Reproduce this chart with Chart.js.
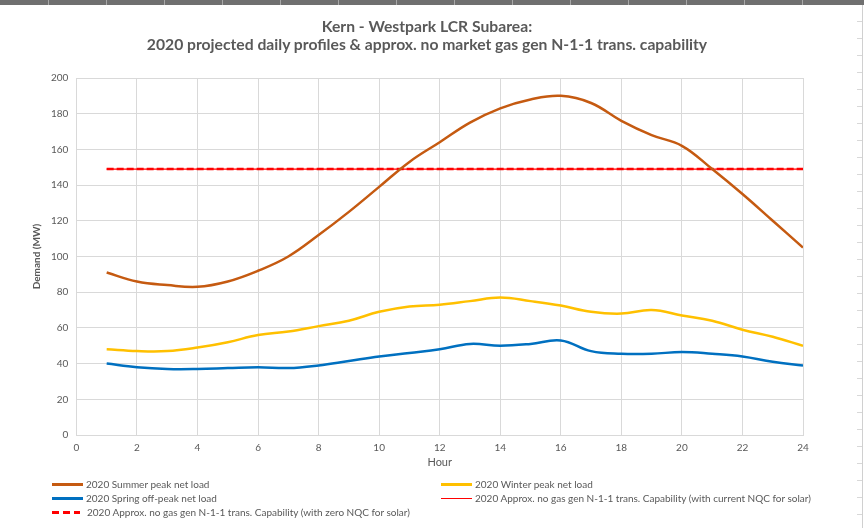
<!DOCTYPE html>
<html>
<head>
<meta charset="utf-8">
<script src="https://cdn.jsdelivr.net/npm/chart.js@4.4.1/dist/chart.umd.min.js"></script>
<style>
  html, body { margin: 0; padding: 0; background: #fff; }
  #wrap { position: relative; width: 864px; height: 528px; overflow: hidden; font-family: Lato, "Open Sans", sans-serif; }
  #topbar { position: absolute; left: 0; top: 0; width: 864px; height: 5px;
            background: repeating-linear-gradient(90deg, #707070 0px, #707070 57px, #a8a8a8 57px, #a8a8a8 58px);
            background-position: -9px 0; }
  #rightcol { position: absolute; left: 857px; top: 5px; width: 5px; height: 523px;
              border-right: 1px solid #d0d0d0;
              background: repeating-linear-gradient(180deg, transparent 0px, transparent 16px, #d8d8d8 16px, #d8d8d8 17px); }
  #chart { position: absolute; left: 0; top: 0; }
  #title { position: absolute; left: 0; top: 17px; width: 854px; text-align: center;
           font-size: 15.7px; font-weight: bold; line-height: 18px; color: #595959; }
  #legend { position: absolute; left: 0; top: 0; width: 864px; height: 528px; pointer-events: none; }
  .item { position: absolute; font-size: 10px; color: #595959; white-space: nowrap; line-height: 14px; }
  .swatch { display: inline-block; vertical-align: middle; width: 31px; height: 3px; margin-right: 3px; position: relative; top: -1px; }
</style>
</head>
<body>
<div id="wrap">
  <canvas id="chart" width="864" height="528"></canvas>
  <div id="title"></div>
  <div id="topbar"></div>
  <div id="rightcol"></div>
  <div id="legend"></div>
</div>
<script>
// hours of the day
const hours = [1, 2, 3, 4, 5, 6, 7, 8, 9, 10, 11, 12, 13, 14, 15, 16, 17, 18, 19, 20, 21, 22, 23, 24];

// demand in MW
const summerPeak = [91, 86, 84, 83, 86, 92, 100, 112, 125, 139, 153, 164, 175, 183, 188, 190, 186, 176, 168, 162, 149, 135, 120, 105];
const winterPeak = [48, 47, 47, 49, 52, 56, 58, 61, 64, 69, 72, 73, 75, 77, 75, 72.5, 69, 68, 70, 67, 64, 59, 55, 50];
const springOffPeak = [40, 38, 37, 37, 37.5, 38, 37.5, 39, 41.5, 44, 46, 48, 51, 50, 51, 53, 47, 45.5, 45.5, 46.5, 45.5, 44, 41, 39];
const capCurrentNqc = [149, 149, 149, 149, 149, 149, 149, 149, 149, 149, 149, 149, 149, 149, 149, 149, 149, 149, 149, 149, 149, 149, 149, 149];
const capZeroNqc = [149, 149, 149, 149, 149, 149, 149, 149, 149, 149, 149, 149, 149, 149, 149, 149, 149, 149, 149, 149, 149, 149, 149, 149];

const seriesNames = [
    "2020 Summer peak net load",
    "2020 Winter peak net load",
    "2020 Spring off-peak net load",
    "2020 Approx. no gas gen N-1-1 trans. Capability (with current NQC for solar)",
    "2020 Approx. no gas gen N-1-1 trans. Capability (with zero NQC for solar)"
];
const seriesColors = ['#c55a11', '#ffc000', '#0070c0', '#ff0000', '#ff0000'];

const titleLines = ["Kern - Westpark LCR Subarea:", "2020 projected daily profiles & approx. no market gas gen N-1-1 trans. capability"];

function points(values) {
    return hours.map(function(h, i) { return { x: h, y: values[i] }; });
}

const data = {
    datasets: [
        { label: seriesNames[0], data: points(summerPeak), borderColor: seriesColors[0], borderWidth: 2.5, tension: 0.4 },
        { label: seriesNames[1], data: points(winterPeak), borderColor: seriesColors[1], borderWidth: 2.5, tension: 0.4 },
        { label: seriesNames[2], data: points(springOffPeak), borderColor: seriesColors[2], borderWidth: 2.5, tension: 0.4 },
        { label: seriesNames[3], data: points(capCurrentNqc), borderColor: seriesColors[3], borderWidth: 1.2, tension: 0 },
        { label: seriesNames[4], data: points(capZeroNqc), borderColor: seriesColors[4], borderWidth: 2.5, borderDash: [7, 3], tension: 0 }
    ]
};

const tickColor = '#595959';
const gridColor = '#d9d9d9';

const config = {
    type: 'line',
    data: data,
    options: {
        responsive: false,
        animation: false,
        events: [],
        elements: { point: { radius: 0 } },
        layout: { padding: { left: 31, right: 61, top: 78, bottom: 60 } },
        plugins: {
            legend: { display: false },
            tooltip: { enabled: false },
            title: { display: false }
        },
        scales: {
            x: {
                type: 'linear',
                min: 0,
                max: 24,
                ticks: { stepSize: 2, color: tickColor, font: { family: 'Lato', size: 10, lineHeight: 1 }, maxRotation: 0, padding: 8 },
                grid: { color: gridColor, drawTicks: false },
                border: { color: gridColor },
                title: { display: true, text: 'Hour', color: tickColor, font: { family: 'Lato', size: 11, lineHeight: 1 }, padding: { top: -4, bottom: 0 } }
            },
            y: {
                min: 0,
                max: 200,
                ticks: { stepSize: 20, color: tickColor, font: { family: 'Lato', size: 10 }, padding: 8 },
                grid: { color: gridColor, drawTicks: false },
                border: { color: gridColor },
                title: { display: true, text: 'Demand (MW)', color: tickColor, font: { family: 'Lato', size: 10, weight: 'bold' }, padding: { top: 0, bottom: 0 } }
            }
        }
    }
};

const chart = new Chart(document.getElementById('chart').getContext('2d'), config);

// title as two text lines above the plot
const titleBox = document.getElementById('title');
titleLines.forEach(function(line) {
    const d = document.createElement('div');
    d.textContent = line;
    titleBox.appendChild(d);
});

// legend in two columns like the original
const legendSpots = [
    { left: 52, top: 477 },
    { left: 441, top: 477 },
    { left: 52, top: 491 },
    { left: 441, top: 491 },
    { left: 52, top: 505 }
];
const legendBox = document.getElementById('legend');
data.datasets.forEach(function(ds, i) {
    const item = document.createElement('div');
    item.className = 'item';
    item.style.left = legendSpots[i].left + 'px';
    item.style.top = legendSpots[i].top + 'px';
    const sw = document.createElement('span');
    sw.className = 'swatch';
    if (ds.borderDash) {
        sw.style.width = '28px';
        sw.style.marginRight = '7px';
        sw.style.background = 'repeating-linear-gradient(90deg, ' + ds.borderColor + ' 0px, ' + ds.borderColor + ' 7px, transparent 7px, transparent 11px)';
    } else {
        sw.style.background = ds.borderColor;
        if (ds.borderWidth < 2) {
            sw.style.height = '1.5px';
        }
    }
    item.appendChild(sw);
    item.appendChild(document.createTextNode(ds.label));
    legendBox.appendChild(item);
});
</script>
</body>
</html>
